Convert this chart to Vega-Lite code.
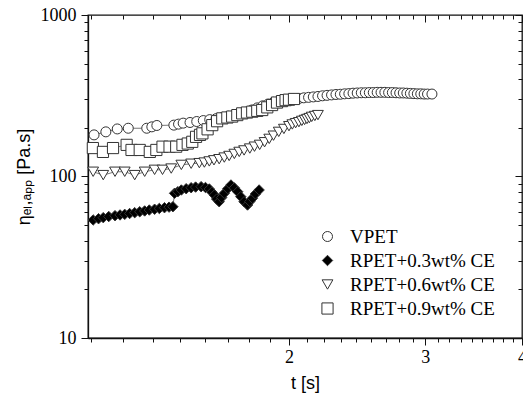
{
  "$schema": "https://vega.github.io/schema/vega-lite/v6.json",
  "width": 434,
  "height": 323,
  "autosize": "none",
  "padding": {"left": 88, "top": 15, "right": 1, "bottom": 59},
  "background": "white",
  "config": {
    "view": {"stroke": "#111", "strokeWidth": 1.3},
    "axis": {"grid": false, "tickColor": "#111", "domainColor": "#111", "domainWidth": 1.3, "tickWidth": 1, "labelColor": "black", "titleColor": "black"}
  },
  "datasets": {
    "d": [
      {"s": "VPET", "t": 1.12, "v": 181}, {"s": "VPET", "t": 1.16, "v": 189}, {"s": "VPET", "t": 1.20, "v": 197}, {"s": "VPET", "t": 1.24, "v": 199},
      {"s": "VPET", "t": 1.31, "v": 199}, {"s": "VPET", "t": 1.33, "v": 203}, {"s": "VPET", "t": 1.35, "v": 207}, {"s": "VPET", "t": 1.42, "v": 208},
      {"s": "VPET", "t": 1.44, "v": 211}, {"s": "VPET", "t": 1.46, "v": 214}, {"s": "VPET", "t": 1.49, "v": 216}, {"s": "VPET", "t": 1.52, "v": 219},
      {"s": "VPET", "t": 1.55, "v": 222}, {"s": "VPET", "t": 1.58, "v": 225}, {"s": "VPET", "t": 1.61, "v": 228}, {"s": "VPET", "t": 1.64, "v": 232},
      {"s": "VPET", "t": 1.67, "v": 236}, {"s": "VPET", "t": 1.70, "v": 241}, {"s": "VPET", "t": 1.73, "v": 245}, {"s": "VPET", "t": 1.76, "v": 250},
      {"s": "VPET", "t": 1.79, "v": 258}, {"s": "VPET", "t": 1.82, "v": 266}, {"s": "VPET", "t": 1.85, "v": 274}, {"s": "VPET", "t": 1.88, "v": 281},
      {"s": "VPET", "t": 1.91, "v": 288}, {"s": "VPET", "t": 1.94, "v": 293}, {"s": "VPET", "t": 1.97, "v": 296}, {"s": "VPET", "t": 2.00, "v": 299},
      {"s": "VPET", "t": 2.03, "v": 301}, {"s": "VPET", "t": 2.06, "v": 304}, {"s": "VPET", "t": 2.09, "v": 307}, {"s": "VPET", "t": 2.12, "v": 309},
      {"s": "VPET", "t": 2.15, "v": 311}, {"s": "VPET", "t": 2.18, "v": 313}, {"s": "VPET", "t": 2.21, "v": 316}, {"s": "VPET", "t": 2.24, "v": 318},
      {"s": "VPET", "t": 2.27, "v": 320}, {"s": "VPET", "t": 2.30, "v": 322}, {"s": "VPET", "t": 2.33, "v": 323}, {"s": "VPET", "t": 2.36, "v": 325},
      {"s": "VPET", "t": 2.39, "v": 326}, {"s": "VPET", "t": 2.42, "v": 328}, {"s": "VPET", "t": 2.45, "v": 329}, {"s": "VPET", "t": 2.48, "v": 330},
      {"s": "VPET", "t": 2.51, "v": 330}, {"s": "VPET", "t": 2.54, "v": 331}, {"s": "VPET", "t": 2.57, "v": 331}, {"s": "VPET", "t": 2.60, "v": 332},
      {"s": "VPET", "t": 2.63, "v": 332}, {"s": "VPET", "t": 2.66, "v": 332}, {"s": "VPET", "t": 2.69, "v": 331}, {"s": "VPET", "t": 2.72, "v": 331},
      {"s": "VPET", "t": 2.75, "v": 330}, {"s": "VPET", "t": 2.78, "v": 329}, {"s": "VPET", "t": 2.81, "v": 329}, {"s": "VPET", "t": 2.84, "v": 328},
      {"s": "VPET", "t": 2.87, "v": 327}, {"s": "VPET", "t": 2.90, "v": 326}, {"s": "VPET", "t": 2.93, "v": 325}, {"s": "VPET", "t": 2.96, "v": 325},
      {"s": "VPET", "t": 2.99, "v": 324}, {"s": "VPET", "t": 3.02, "v": 324}, {"s": "VPET", "t": 3.06, "v": 324},

      {"s": "RPET+0.3wt% CE", "t": 1.117, "v": 53.8}, {"s": "RPET+0.3wt% CE", "t": 1.135, "v": 54.8}, {"s": "RPET+0.3wt% CE", "t": 1.151, "v": 55.6},
      {"s": "RPET+0.3wt% CE", "t": 1.17, "v": 56.5}, {"s": "RPET+0.3wt% CE", "t": 1.192, "v": 57.2}, {"s": "RPET+0.3wt% CE", "t": 1.21, "v": 57.8},
      {"s": "RPET+0.3wt% CE", "t": 1.227, "v": 58.3}, {"s": "RPET+0.3wt% CE", "t": 1.245, "v": 59}, {"s": "RPET+0.3wt% CE", "t": 1.264, "v": 59.7},
      {"s": "RPET+0.3wt% CE", "t": 1.283, "v": 60.5}, {"s": "RPET+0.3wt% CE", "t": 1.302, "v": 61.2}, {"s": "RPET+0.3wt% CE", "t": 1.32, "v": 62},
      {"s": "RPET+0.3wt% CE", "t": 1.341, "v": 62.7}, {"s": "RPET+0.3wt% CE", "t": 1.36, "v": 63.4}, {"s": "RPET+0.3wt% CE", "t": 1.381, "v": 64.1},
      {"s": "RPET+0.3wt% CE", "t": 1.40, "v": 64.6}, {"s": "RPET+0.3wt% CE", "t": 1.416, "v": 65}, {"s": "RPET+0.3wt% CE", "t": 1.423, "v": 78.7},
      {"s": "RPET+0.3wt% CE", "t": 1.437, "v": 80.5}, {"s": "RPET+0.3wt% CE", "t": 1.452, "v": 82.5}, {"s": "RPET+0.3wt% CE", "t": 1.473, "v": 84},
      {"s": "RPET+0.3wt% CE", "t": 1.495, "v": 85.2}, {"s": "RPET+0.3wt% CE", "t": 1.515, "v": 86}, {"s": "RPET+0.3wt% CE", "t": 1.54, "v": 86.5},
      {"s": "RPET+0.3wt% CE", "t": 1.56, "v": 85.5}, {"s": "RPET+0.3wt% CE", "t": 1.578, "v": 83.7}, {"s": "RPET+0.3wt% CE", "t": 1.59, "v": 80},
      {"s": "RPET+0.3wt% CE", "t": 1.602, "v": 76.8}, {"s": "RPET+0.3wt% CE", "t": 1.613, "v": 72.5}, {"s": "RPET+0.3wt% CE", "t": 1.625, "v": 69.8},
      {"s": "RPET+0.3wt% CE", "t": 1.637, "v": 74}, {"s": "RPET+0.3wt% CE", "t": 1.65, "v": 78.7}, {"s": "RPET+0.3wt% CE", "t": 1.667, "v": 84},
      {"s": "RPET+0.3wt% CE", "t": 1.683, "v": 88.6}, {"s": "RPET+0.3wt% CE", "t": 1.70, "v": 85}, {"s": "RPET+0.3wt% CE", "t": 1.717, "v": 80.5},
      {"s": "RPET+0.3wt% CE", "t": 1.733, "v": 75}, {"s": "RPET+0.3wt% CE", "t": 1.75, "v": 69.8}, {"s": "RPET+0.3wt% CE", "t": 1.768, "v": 66.6},
      {"s": "RPET+0.3wt% CE", "t": 1.78, "v": 70}, {"s": "RPET+0.3wt% CE", "t": 1.794, "v": 73.3}, {"s": "RPET+0.3wt% CE", "t": 1.81, "v": 78},
      {"s": "RPET+0.3wt% CE", "t": 1.83, "v": 82.5},

      {"s": "RPET+0.6wt% CE", "t": 1.117, "v": 107}, {"s": "RPET+0.6wt% CE", "t": 1.151, "v": 102}, {"s": "RPET+0.6wt% CE", "t": 1.192, "v": 107},
      {"s": "RPET+0.6wt% CE", "t": 1.227, "v": 107}, {"s": "RPET+0.6wt% CE", "t": 1.264, "v": 102}, {"s": "RPET+0.6wt% CE", "t": 1.302, "v": 107},
      {"s": "RPET+0.6wt% CE", "t": 1.341, "v": 110}, {"s": "RPET+0.6wt% CE", "t": 1.373, "v": 110}, {"s": "RPET+0.6wt% CE", "t": 1.409, "v": 112},
      {"s": "RPET+0.6wt% CE", "t": 1.452, "v": 118}, {"s": "RPET+0.6wt% CE", "t": 1.495, "v": 120}, {"s": "RPET+0.6wt% CE", "t": 1.532, "v": 121},
      {"s": "RPET+0.6wt% CE", "t": 1.555, "v": 122}, {"s": "RPET+0.6wt% CE", "t": 1.578, "v": 124}, {"s": "RPET+0.6wt% CE", "t": 1.60, "v": 126},
      {"s": "RPET+0.6wt% CE", "t": 1.625, "v": 128}, {"s": "RPET+0.6wt% CE", "t": 1.65, "v": 131}, {"s": "RPET+0.6wt% CE", "t": 1.674, "v": 134},
      {"s": "RPET+0.6wt% CE", "t": 1.70, "v": 138}, {"s": "RPET+0.6wt% CE", "t": 1.725, "v": 142}, {"s": "RPET+0.6wt% CE", "t": 1.75, "v": 145},
      {"s": "RPET+0.6wt% CE", "t": 1.78, "v": 149}, {"s": "RPET+0.6wt% CE", "t": 1.805, "v": 153}, {"s": "RPET+0.6wt% CE", "t": 1.833, "v": 157},
      {"s": "RPET+0.6wt% CE", "t": 1.86, "v": 163}, {"s": "RPET+0.6wt% CE", "t": 1.886, "v": 171}, {"s": "RPET+0.6wt% CE", "t": 1.91, "v": 179},
      {"s": "RPET+0.6wt% CE", "t": 1.94, "v": 189}, {"s": "RPET+0.6wt% CE", "t": 1.97, "v": 197}, {"s": "RPET+0.6wt% CE", "t": 2.00, "v": 205},
      {"s": "RPET+0.6wt% CE", "t": 2.02, "v": 210}, {"s": "RPET+0.6wt% CE", "t": 2.04, "v": 214}, {"s": "RPET+0.6wt% CE", "t": 2.06, "v": 217},
      {"s": "RPET+0.6wt% CE", "t": 2.078, "v": 221}, {"s": "RPET+0.6wt% CE", "t": 2.095, "v": 224}, {"s": "RPET+0.6wt% CE", "t": 2.11, "v": 227},
      {"s": "RPET+0.6wt% CE", "t": 2.125, "v": 230}, {"s": "RPET+0.6wt% CE", "t": 2.14, "v": 234}, {"s": "RPET+0.6wt% CE", "t": 2.16, "v": 237},
      {"s": "RPET+0.6wt% CE", "t": 2.18, "v": 240},

      {"s": "RPET+0.9wt% CE", "t": 1.116, "v": 150}, {"s": "RPET+0.9wt% CE", "t": 1.15, "v": 142}, {"s": "RPET+0.9wt% CE", "t": 1.185, "v": 150},
      {"s": "RPET+0.9wt% CE", "t": 1.234, "v": 157}, {"s": "RPET+0.9wt% CE", "t": 1.252, "v": 146}, {"s": "RPET+0.9wt% CE", "t": 1.283, "v": 146},
      {"s": "RPET+0.9wt% CE", "t": 1.322, "v": 142}, {"s": "RPET+0.9wt% CE", "t": 1.348, "v": 146}, {"s": "RPET+0.9wt% CE", "t": 1.373, "v": 153},
      {"s": "RPET+0.9wt% CE", "t": 1.402, "v": 153}, {"s": "RPET+0.9wt% CE", "t": 1.43, "v": 153}, {"s": "RPET+0.9wt% CE", "t": 1.457, "v": 157},
      {"s": "RPET+0.9wt% CE", "t": 1.48, "v": 160}, {"s": "RPET+0.9wt% CE", "t": 1.50, "v": 164}, {"s": "RPET+0.9wt% CE", "t": 1.517, "v": 176},
      {"s": "RPET+0.9wt% CE", "t": 1.535, "v": 181}, {"s": "RPET+0.9wt% CE", "t": 1.546, "v": 185}, {"s": "RPET+0.9wt% CE", "t": 1.57, "v": 196},
      {"s": "RPET+0.9wt% CE", "t": 1.592, "v": 208}, {"s": "RPET+0.9wt% CE", "t": 1.615, "v": 220}, {"s": "RPET+0.9wt% CE", "t": 1.64, "v": 229},
      {"s": "RPET+0.9wt% CE", "t": 1.665, "v": 232}, {"s": "RPET+0.9wt% CE", "t": 1.689, "v": 235}, {"s": "RPET+0.9wt% CE", "t": 1.715, "v": 240},
      {"s": "RPET+0.9wt% CE", "t": 1.74, "v": 246}, {"s": "RPET+0.9wt% CE", "t": 1.765, "v": 249}, {"s": "RPET+0.9wt% CE", "t": 1.793, "v": 252},
      {"s": "RPET+0.9wt% CE", "t": 1.82, "v": 255}, {"s": "RPET+0.9wt% CE", "t": 1.847, "v": 258}, {"s": "RPET+0.9wt% CE", "t": 1.875, "v": 268},
      {"s": "RPET+0.9wt% CE", "t": 1.902, "v": 277}, {"s": "RPET+0.9wt% CE", "t": 1.93, "v": 287}, {"s": "RPET+0.9wt% CE", "t": 1.959, "v": 293},
      {"s": "RPET+0.9wt% CE", "t": 1.98, "v": 297}, {"s": "RPET+0.9wt% CE", "t": 2.0, "v": 299}, {"s": "RPET+0.9wt% CE", "t": 2.03, "v": 302}
    ]
  },
  "data": {"name": "d"},
  "resolve": {"axis": {"x": "independent", "y": "independent"}},
  "layer": [
    {
      "mark": {"type": "line", "stroke": "#666", "strokeWidth": 0.9},
      "encoding": {
        "x": {"field": "t", "type": "quantitative", "scale": {"type": "log", "domain": [1.1, 4], "nice": false},
          "axis": {"orient": "bottom", "values": [1.1111,1.2222,1.3333,1.4444,1.5556,1.6667,1.7778,1.8889,2,2.1111,2.2222,2.3333,2.4444,2.5556,2.6667,2.7778,2.8889,3,3.1111,3.2222,3.3333,3.4444,3.5556,3.6667,3.7778,3.8889,4],
            "labelExpr": "(datum.value == 2 || datum.value == 3 || datum.value == 4) ? format(datum.value, 'd') : ''",
            "tickSize": {"condition": {"test": "datum.value == 2 || datum.value == 3 || datum.value == 4", "value": 7}, "value": 4},
            "labelPadding": 3, "labelFlush": false, "labelOverlap": false, "labelBound": false,
            "labelFont": "Liberation Serif", "labelFontSize": 18,
            "title": "t [s]", "titleFont": "Liberation Sans", "titleFontSize": 18, "titleFontWeight": "normal", "titlePadding": 8}},
        "y": {"field": "v", "type": "quantitative", "scale": {"type": "log", "domain": [10, 1000], "nice": false},
          "axis": {"orient": "left", "values": [10,20,30,40,50,60,70,80,90,100,200,300,400,500,600,700,800,900,1000],
            "labelExpr": "(datum.value == 10 || datum.value == 100 || datum.value == 1000) ? format(datum.value, 'd') : ''",
            "tickSize": {"condition": {"test": "datum.value == 10 || datum.value == 100 || datum.value == 1000", "value": 7}, "value": 4},
            "labelPadding": 5, "labelOverlap": false, "labelBound": false, "labelFlush": false,
            "labelFont": "Liberation Serif", "labelFontSize": 18,
            "title": "ηₑₗ,ₐₚₚ [Pa.s]", "titleFont": "Liberation Sans", "titleFontSize": 18, "titleFontWeight": "normal", "titlePadding": 7}},
        "detail": {"field": "s"}
      }
    },
    {
      "mark": {"type": "point", "opacity": 1, "stroke": "#333", "strokeWidth": 1},
      "encoding": {
        "x": {"field": "t", "type": "quantitative", "scale": {"type": "log", "domain": [1.1, 4], "nice": false}, "axis": null},
        "y": {"field": "v", "type": "quantitative", "scale": {"type": "log", "domain": [10, 1000], "nice": false}, "axis": null},
        "shape": {"field": "s", "type": "nominal",
          "scale": {"domain": ["VPET", "RPET+0.3wt% CE", "RPET+0.6wt% CE", "RPET+0.9wt% CE"], "range": ["circle", "diamond", "triangle-down", "square"]},
          "legend": {"orient": "none", "legendX": 230, "legendY": 212, "title": null, "padding": 0,
            "labelFont": "Liberation Serif", "labelFontSize": 19, "labelColor": "black",
            "symbolSize": 81, "labelOffset": 13, "rowPadding": 4, "symbolStrokeColor": "#333", "symbolStrokeWidth": 1,
            "encode": {"symbols": {"update": {
              "shape": {"signal": "datum.value === 'VPET' ? 'M-4.1,0L-1,0M1,0L4.1,0M-1,0A1,1,0,1,1,1,0A1,1,0,1,1,-1,0Z' : datum.value === 'RPET+0.3wt% CE' ? 'M-4.1,0L4.1,0M-1.25,0L0,-1.25L1.25,0L0,1.25Z' : datum.value === 'RPET+0.6wt% CE' ? 'M-4.1,0L-0.65,0M0.65,0L4.1,0M-1.2,-1.05L1.2,-1.05L0,1.25Z' : 'M-4.1,0L-0.95,0M0.95,0L4.1,0M-0.95,-0.95L0.95,-0.95L0.95,0.95L-0.95,0.95Z'"},
              "fill": {"signal": "datum.value === 'RPET+0.3wt% CE' ? 'black' : 'white'"},
              "stroke": {"value": "#333"},
              "opacity": {"value": 1}
            }}}}},
        "fill": {"field": "s", "type": "nominal",
          "scale": {"domain": ["VPET", "RPET+0.3wt% CE", "RPET+0.6wt% CE", "RPET+0.9wt% CE"], "range": ["white", "black", "white", "white"]}},
        "size": {"field": "s", "type": "ordinal",
          "scale": {"domain": ["VPET", "RPET+0.3wt% CE", "RPET+0.6wt% CE", "RPET+0.9wt% CE"], "range": [100, 125, 115, 80]}}
      }
    },
    {
      "mark": {"type": "point", "opacity": 0},
      "encoding": {
        "x": {"field": "t", "type": "quantitative", "scale": {"type": "log", "domain": [1.1, 4], "nice": false},
          "axis": {"orient": "top", "values": [1.1111,1.2222,1.3333,1.4444,1.5556,1.6667,1.7778,1.8889,2,2.1111,2.2222,2.3333,2.4444,2.5556,2.6667,2.7778,2.8889,3,3.1111,3.2222,3.3333,3.4444,3.5556,3.6667,3.7778,3.8889,4],
            "labels": false, "title": null, "domain": false,
            "tickSize": {"condition": {"test": "datum.value == 2 || datum.value == 3 || datum.value == 4", "value": -7}, "value": -4}}},
        "y": {"field": "v", "type": "quantitative", "scale": {"type": "log", "domain": [10, 1000], "nice": false},
          "axis": {"orient": "right", "values": [10,20,30,40,50,60,70,80,90,100,200,300,400,500,600,700,800,900,1000],
            "labels": false, "title": null, "domain": false,
            "tickSize": {"condition": {"test": "datum.value == 10 || datum.value == 100 || datum.value == 1000", "value": -7}, "value": -4}}}
      }
    }
  ]
}
